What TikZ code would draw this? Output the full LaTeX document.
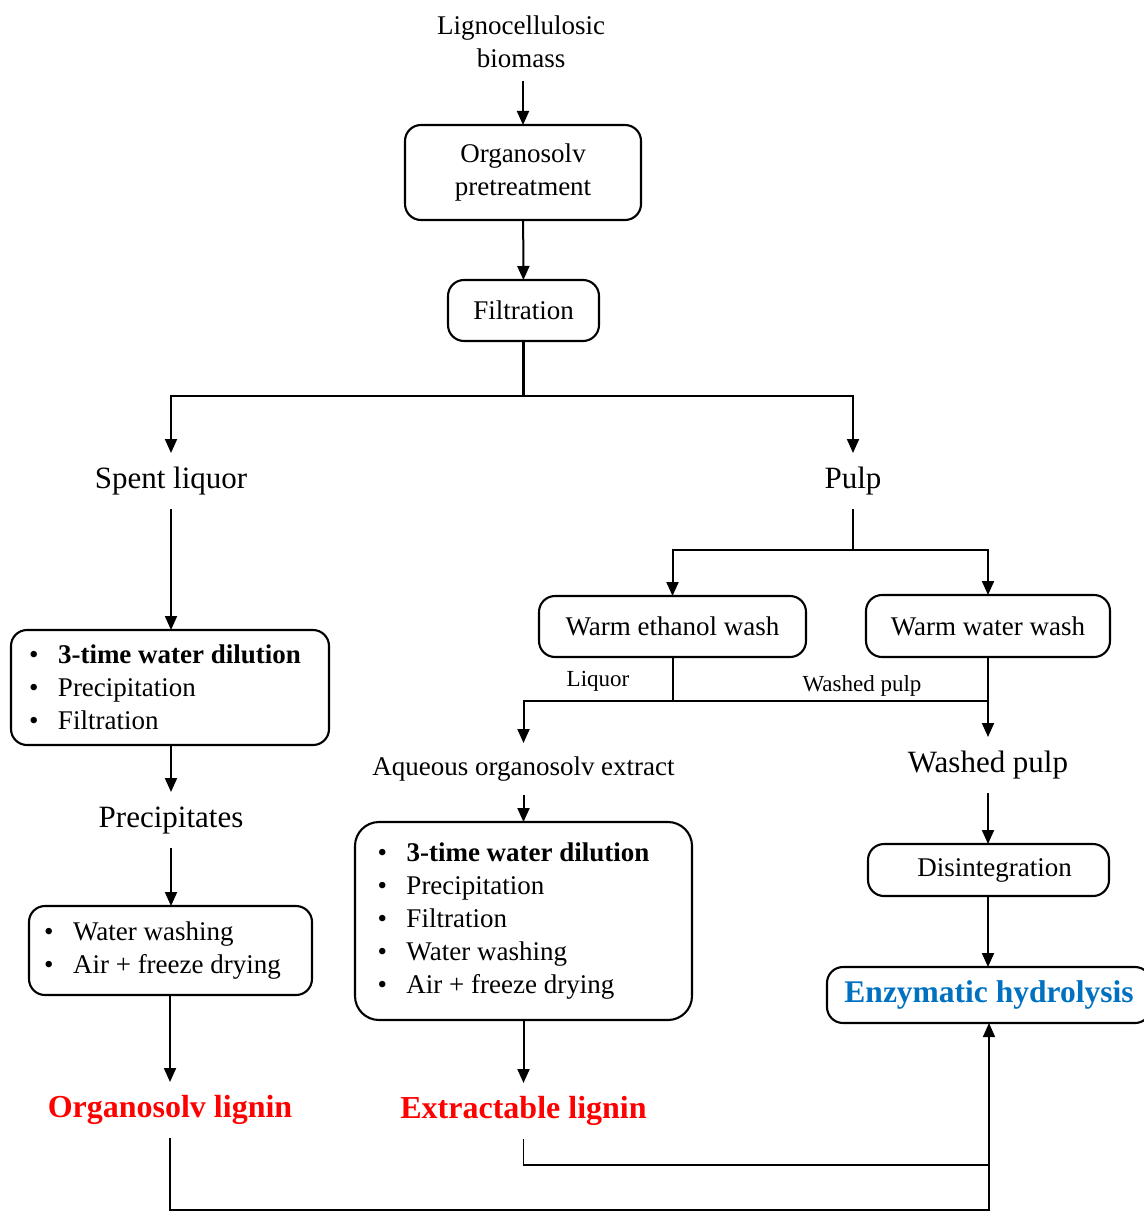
\documentclass[tikz,border=0pt]{standalone}
\usepackage{fontspec}
\setmainfont{Liberation Serif}
\usetikzlibrary{arrows.meta,calc}
\definecolor{lignred}{RGB}{255,0,0}
\definecolor{enzblue}{RGB}{0,112,192}
\newcommand{\fsz}[2]{\fontsize{#1}{#2}\selectfont}
\newcommand{\itm}{\makebox[29pt][l]{\textbullet}}
\tikzset{>={Triangle[length=14pt,width=12pt]}}
\tikzset{
  box/.style={draw, line width=2.1pt, rounded corners=16pt, inner sep=0pt, outer sep=0pt, align=center, font=\fsz{27}{33}},
  txt/.style={inner sep=0pt, outer sep=13pt, align=center, font=\fsz{31}{36}},
  lbl/.style={txt, text height=22pt, text depth=8pt},
  small/.style={inner sep=0pt, font=\fsz{23}{26}},
  product/.style={lbl, font=\fsz{32}{36}\bfseries, text=lignred},
  flow/.style={line width=2pt, ->},
  link/.style={line width=2pt}
}
\begin{document}
\begin{tikzpicture}[x=1pt,y=-1pt]
\useasboundingbox (0,0) rectangle (1143,1212);
% top of the chain
\node[txt, font=\fsz{27}{33}] (biomass) at (521,42) {Lignocellulosic\\biomass};
\node[box, minimum width=236, minimum height=95] (pretreat) at (523,172.5) {Organosolv\\pretreatment};
\node[box, minimum width=151, minimum height=61] (filtr) at (523.5,310.5) {Filtration};
\draw[flow] (biomass.south -| pretreat) -- (pretreat);
\draw[flow] (pretreat) -- (filtr);
\coordinate (split) at (523.5,396);
\node[lbl] (liquor) at (171,481) {Spent liquor};
\node[lbl] (pulp) at (853,481) {Pulp};
\draw[link, line width=2.8pt] (filtr) -- (split);
\draw[flow] (split) -| (liquor);
\draw[flow] (split) -| (pulp);

% spent liquor branch
\node[box, minimum width=318, minimum height=115, align=left] (dil1) at (170,687.5)
  {\itm\textbf{3-time water dilution}\hspace*{10pt}\\\itm Precipitation\\\itm Filtration};
\node[lbl] (precip) at (171,820) {Precipitates};
\node[box, minimum width=283, minimum height=89, align=left] (wash1) at (170.5,950.5)
  {\itm Water washing\\\itm Air + freeze drying\hspace*{16pt}};
\node[product] (olignin) at (170,1110) {Organosolv lignin};
\draw[flow] (liquor) -- (liquor |- dil1.north);
\draw[flow] (dil1.south -| precip) -- (precip);
\draw[flow] (precip) -- (precip |- wash1.north);
\draw[flow] (wash1.south -| olignin) -- (olignin);

% pulp branch
\coordinate (psplit) at (853,550);
\node[box, minimum width=267, minimum height=61] (ethwash) at (672.5,626.5) {Warm ethanol wash};
\node[box, minimum width=244, minimum height=62] (wwash) at (988,626) {Warm water wash};
\draw[link] (pulp) -- (psplit);
\draw[flow] (psplit) -| (ethwash);
\draw[flow] (psplit) -| (wwash);
\coordinate (esplit) at (672.5,701);
\node[txt, font=\fsz{27}{33}, text height=19pt, text depth=7pt] (extract) at (523.5,769) {Aqueous organosolv extract};
\node[lbl] (wpulp) at (988,765) {Washed pulp};
\draw[link] (ethwash) -- (esplit);
\draw[flow] (esplit) -| (extract);
\draw[link] (esplit) -- (esplit -| wwash);
\node[small] (liqlbl) at (598,681) {Liquor};
\node[small] (wplbl) at (862,686) {Washed pulp};
\draw[flow] (wwash) -- (wpulp);

\node[box, minimum width=337, minimum height=198, rounded corners=24pt, align=left] (dil2) at (523.5,921)
  {\itm\textbf{3-time water dilution}\hspace*{20pt}\\\itm Precipitation\\\itm Filtration\\\itm Water washing\\\itm Air + freeze drying};
\node[product] (elignin) at (523.5,1111) {Extractable lignin};
\draw[flow] (extract) -- (extract |- dil2.north);
\draw[flow] (dil2) -- (elignin);

\node[box, minimum width=241, minimum height=52] (disint) at (988.5,870) {\hspace{12pt}Disintegration};
\node[box, minimum width=324, minimum height=56, font=\fsz{31.5}{36}\bfseries, text=enzblue] (enzyme) at (989,995) {Enzymatic hydrolysis};
\draw[flow] (wpulp) -- (wpulp |- disint.north);
\draw[flow] (disint.south -| wpulp) -- (wpulp |- enzyme.north);

% lignins back to hydrolysis
\coordinate (bot) at (989,1210);
\coordinate (mid) at (989,1165);
\draw[link, line width=1.6pt] (elignin) |- (mid);
\draw[flow, line width=1.6pt] (olignin) |- (bot) -- (enzyme);
\end{tikzpicture}
\end{document}
